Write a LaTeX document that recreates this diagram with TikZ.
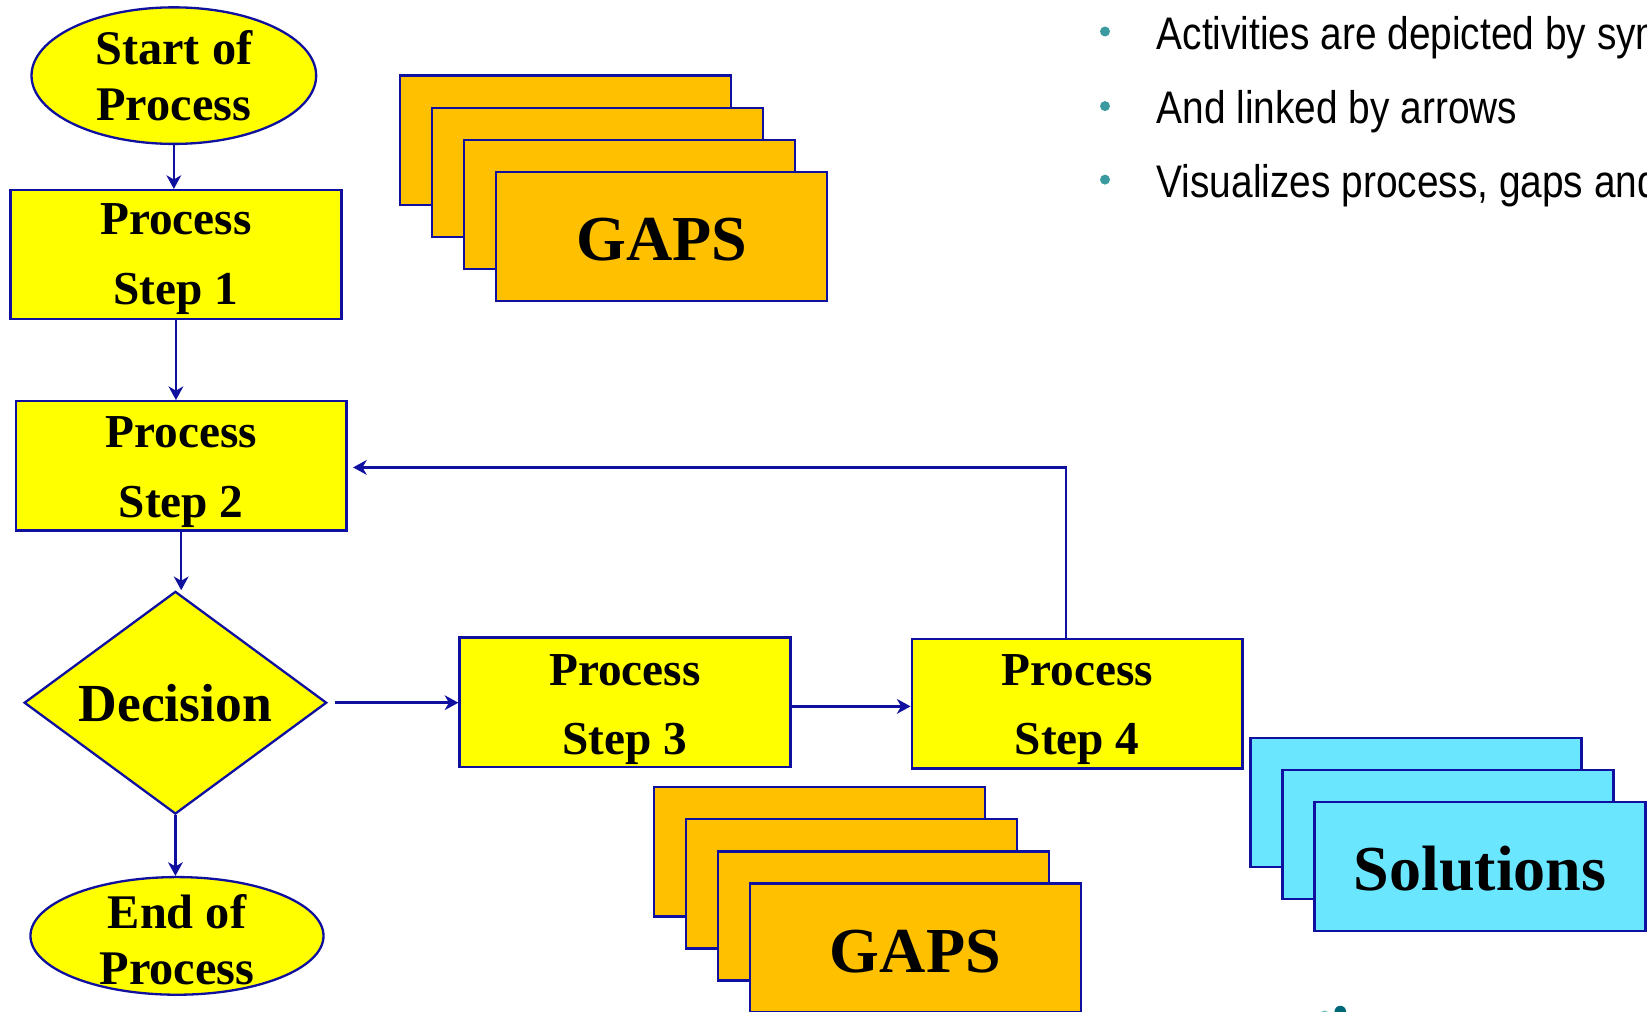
\documentclass[tikz,border=0pt]{standalone}
\usepackage{fontspec}
\setmainfont{Liberation Serif}
\newfontfamily\bulletfont[FakeStretch=0.85]{Liberation Sans}
\usetikzlibrary{shapes.geometric,arrows.meta,calc}

\definecolor{boxyellow}{HTML}{FFFF00}
\definecolor{gapgold}{HTML}{FFC000}
\definecolor{solcyan}{HTML}{6AE6FF}
\definecolor{edgeblue}{RGB}{16,16,160}
\definecolor{bulletteal}{RGB}{59,154,160}
\definecolor{logoteal}{RGB}{0,104,120}
\definecolor{logolight}{RGB}{120,190,195}

% invisible strut that lowers a multi-line label inside its box
\newcommand{\toppad}[1]{\rule{0pt}{#1}}

\begin{document}
\begin{tikzpicture}[x=1pt,y=-1pt,
  frame/.style={draw=edgeblue, line width=2.2pt, inner sep=0pt, text=black},
  terminal/.style={frame, ellipse, fill=boxyellow, align=center,
    font=\bfseries\fontsize{46}{53}\selectfont},
  stepbox/.style={frame, rectangle, fill=boxyellow, minimum width=315pt,
    minimum height=123pt, align=center, font=\bfseries\fontsize{45}{66}\selectfont},
  decisionbox/.style={frame, diamond, fill=boxyellow, aspect=1.358,
    minimum width=288pt, minimum height=212pt, font=\bfseries\fontsize{51}{60}\selectfont},
  sheet/.style={frame, rectangle, minimum width=315pt, minimum height=123pt,
    text height=47pt, font=\bfseries\fontsize{61}{70}\selectfont},
  gapsheet/.style={sheet, fill=gapgold},
  solsheet/.style={sheet, fill=solcyan},
  arr/.style={draw=edgeblue, line width=2.4pt, -{Stealth[length=13pt,width=14pt,inset=4pt]}},
  bullettext/.style={anchor=base west, inner sep=0pt, text=black,
    font=\bulletfont\fontsize{43.5}{50}\selectfont},
  bulletdot/.style={circle, fill=bulletteal, inner sep=0pt, minimum size=9.5pt}
]
\useasboundingbox (0,0) rectangle (1568,963);

% flowchart column
\node[terminal, minimum width=271pt, minimum height=130pt] (st) at (165.5,72) {Start of\\Process};
\node[stepbox] (s1) at (167.5,242.5) {\toppad{38pt}Process\\Step 1};
\node[stepbox] (s2) at (172.5,443.5) {\toppad{41.5pt}Process\\Step 2};
\node[decisionbox] (dec) at (167,669) {Decision};
\node[terminal, inner ysep=-8pt, minimum width=279pt, minimum height=112pt] (en) at (168.5,891) {\toppad{40pt}End of\\Process};

% horizontal branch
\node[stepbox] (s3) at (595,668.5) {\toppad{43.5pt}Process\\Step 3};
\node[stepbox] (s4) at (1025.5,670) {\toppad{40pt}Process\\Step 4};

% stacked GAPS sheets, upper
\node[gapsheet] (ga1) at (538.5,133.5) {};
\node[gapsheet] (ga2) at (569,164) {};
\node[gapsheet] (ga3) at (599.5,194.5) {};
\node[gapsheet] (ga4) at (630,225) {GAPS};

% stacked GAPS sheets, lower
\node[gapsheet] (gb1) at (780,811) {};
\node[gapsheet] (gb2) at (810.5,841.5) {};
\node[gapsheet] (gb3) at (841,872) {};
\node[gapsheet] (gb4) at (871.5,902.5) {GAPS};

% stacked Solutions sheets
\node[solsheet] (so1) at (1348,764) {};
\node[solsheet] (so2) at (1378.5,794.5) {};
\node[solsheet] (so3) at (1409,825) {Solutions};

% connectors
\draw[arr] (st.south) -- (st.south |- s1.north);
\draw[arr] (s1.south) -- (s1.south |- s2.north);
\draw[arr] (s2.south) -- (s2.south |- dec.north);
\draw[arr] (dec.south) -- (dec.south |- en.north);
\draw[arr] ([xshift=7pt]dec.east) -- (s3.west |- dec.east);
\draw[arr] ([yshift=-4pt]s3.east) -- ([yshift=-4pt]s3.east -| s4.west);
\coordinate (back) at (1015,445);
\draw[arr] (s4.north -| back) |- ([xshift=5pt,yshift=-1.5pt]s2.east);

% bullet list
\node[bulletdot] (d1) at (1052,30) {};
\node[bulletdot] (d2) at (1052,101) {};
\node[bulletdot] (d3) at (1052,171) {};
\node[bullettext] (t1) at (1101,47) {Activities are depicted by sym};
\node[bullettext] (t2) at (1101,118) {And linked by arrows};
\node[bullettext] (t3) at (1101,188) {Visualizes process, gaps and};

% logo edge peeking in at the bottom
\fill[logolight] (1261,966) circle (4);
\fill[logoteal] (1276,963) circle (5.5);
\end{tikzpicture}
\end{document}
